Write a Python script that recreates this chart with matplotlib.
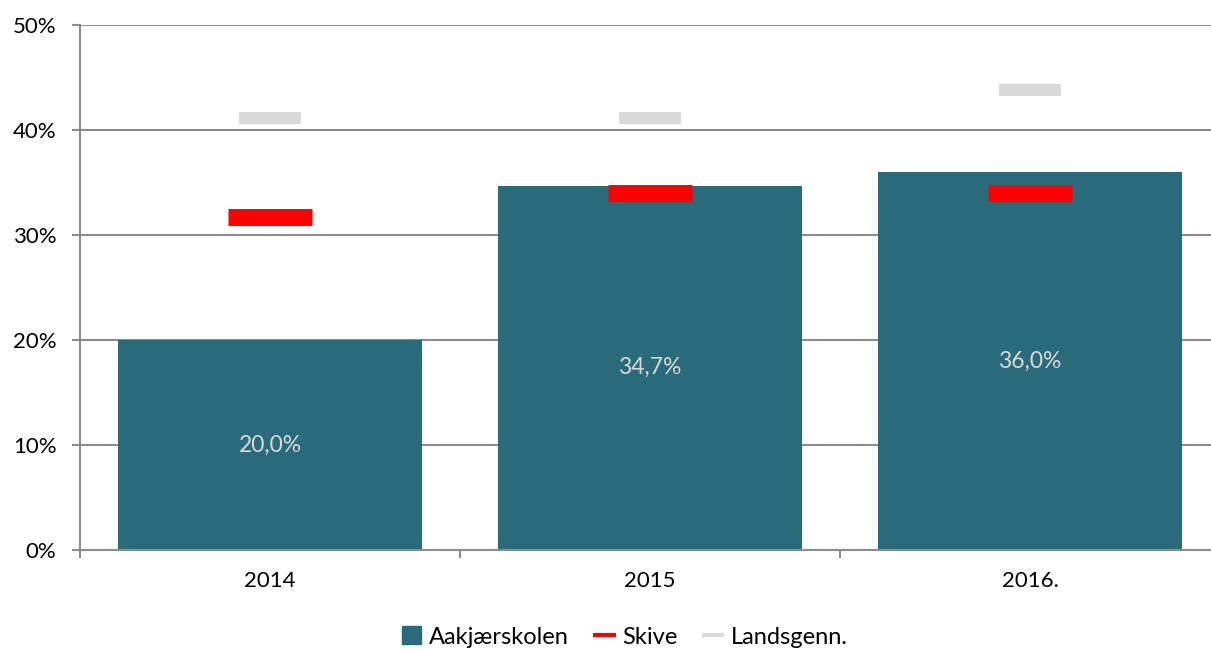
import numpy as np
import matplotlib.pyplot as plt
from matplotlib.patches import Patch
from matplotlib.lines import Line2D

years = ['2014', '2015', '2016.']
aakjaer = [20.0, 34.7, 36.0]
skive = [31.7, 34.0, 34.0]
lands = [41.1, 41.1, 43.8]

bar_color = '#2a6b7b'
grid_color = '#8c8c8c'

plt.rcParams['font.family'] = ['Lato', 'DejaVu Sans']


def main():
    fig = plt.figure(figsize=(12.11, 6.53), dpi=100)
    ax = fig.add_axes([80 / 1211, 103 / 653, 1140 / 1211, 525 / 653])

    x = np.arange(len(years))
    bars = ax.bar(x, aakjaer, width=0.8, color=bar_color, zorder=2)
    for b, v in zip(bars, aakjaer):
        ax.text(b.get_x() + b.get_width() / 2, v / 2, f'{v:.1f}%'.replace('.', ','),
                ha='center', va='center', color='#d9d9d9', fontsize=16.5, zorder=3)

    ax.plot(x, skive, ls='none', marker='_', ms=60.5, mew=12.2, color='#ff0000', zorder=4)
    ax.plot(x, lands, ls='none', marker='_', ms=44, mew=8.6, color='#d9d9d9', zorder=4)

    ax.set_xlim(-0.5, 2.5)
    ax.set_ylim(0, 50)
    ax.set_yticks(np.arange(0, 51, 10))
    ax.set_yticklabels([f'{v}%' for v in range(0, 51, 10)])
    ax.set_xticks(x)
    ax.set_xticklabels(years)
    ax.set_xticks(np.arange(-0.5, 2.6, 1), minor=True)
    ax.tick_params(axis='x', which='major', length=0, pad=15, labelsize=16)
    ax.tick_params(axis='x', which='minor', length=6, width=1.5, color=grid_color, direction='out')
    ax.tick_params(axis='y', length=6, width=1.5, color=grid_color, pad=11, labelsize=16)

    ax.grid(axis='y', color=grid_color, lw=1.5, zorder=0)
    ax.set_axisbelow(True)
    for s in ['top', 'right']:
        ax.spines[s].set_visible(False)
    for s in ['left', 'bottom']:
        ax.spines[s].set_color(grid_color)
        ax.spines[s].set_linewidth(1.5)

    handles = [Patch(color=bar_color, label='Aakjærskolen'),
               Line2D([], [], color='#ff0000', lw=3, label='Skive'),
               Line2D([], [], color='#d9d9d9', lw=3, label='Landsgenn.')]
    fig.legend(handles=handles, loc='center', bbox_to_anchor=(0.516, 1 - 637 / 653), ncol=3,
               frameon=False, fontsize=17, handlelength=0.8, handleheight=0.8,
               handletextpad=0.35, columnspacing=1.1)

    fig.savefig('out.png', dpi=100)


if __name__ == '__main__':
    main()
